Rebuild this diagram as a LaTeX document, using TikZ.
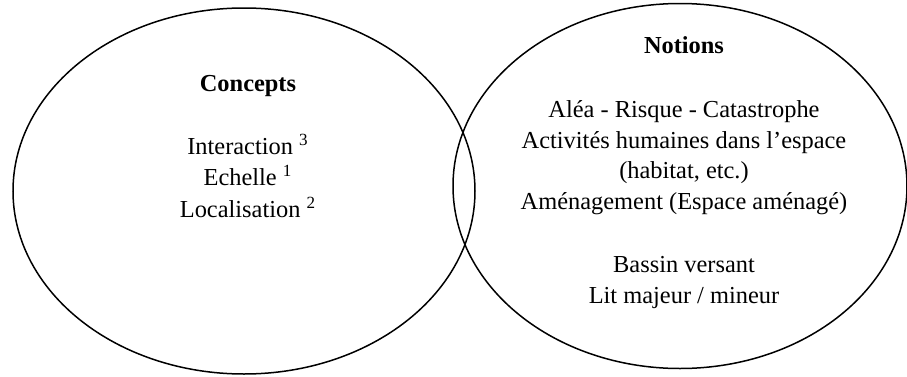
\documentclass[tikz,border=0pt]{standalone}
\usepackage{fontspec}
\setmainfont{Liberation Serif}
\usetikzlibrary{shapes.geometric}
\tikzset{
  venn/.style={draw=black, line width=0.75pt, ellipse, inner sep=0pt},
  txt/.style={anchor=base, inner sep=0pt, font=\fontsize{12.2}{15}\selectfont},
  ttl/.style={txt, font=\fontsize{12.2}{15}\selectfont\bfseries}
}
\newcommand{\sps}[1]{ \textsuperscript{#1}}
\begin{document}
\begin{tikzpicture}[x=0.5pt, y=-0.5pt]
\useasboundingbox (0,0) rectangle (907,376);
\node[venn, minimum width=231pt, minimum height=183pt] (L) at (244,191) {};
\node[venn, minimum width=227pt, minimum height=182.5pt] (R) at (680,186) {};
% left
\node[ttl] (c0) at (248,91) {Concepts};
\node[txt] (c1) at (248,154) {Interaction\sps{3}};
\node[txt] (c2) at (248,185.5) {Echelle\sps{1}};
\node[txt] (c3) at (248,217) {Localisation\sps{2}};
% right
\node[ttl] (n0) at (684,53) {Notions};
\node[txt] (n1) at (684,117) {Aléa - Risque - Catastrophe};
\node[txt] (n2) at (684,148) {Activités humaines dans l’espace};
\node[txt] (n3) at (684,178.5) {(habitat, etc.)};
\node[txt] (n4) at (684,209) {Aménagement (Espace aménagé)};
\node[txt] (n5) at (684,272.5) {Bassin versant};
\node[txt] (n6) at (684,303) {Lit majeur / mineur};
\end{tikzpicture}
\end{document}
